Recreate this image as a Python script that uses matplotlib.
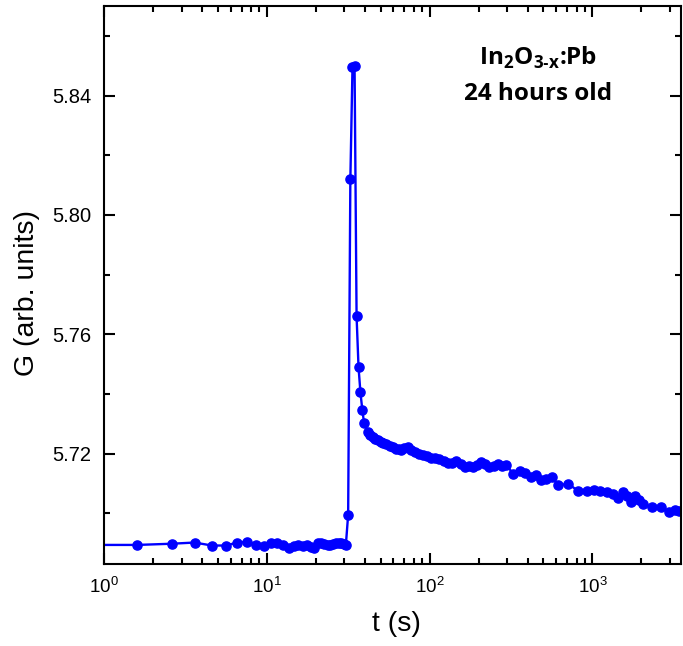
import matplotlib
matplotlib.use("Agg")
import matplotlib.pyplot as plt
from matplotlib.ticker import MultipleLocator, LogLocator, NullFormatter

# conductance transient
t_base = [0.6, 1.6, 2.6, 3.6, 4.6, 5.6, 6.6, 7.6, 8.6, 9.6, 10.6, 11.6, 12.6, 13.6,
          14.6, 15.6, 16.6, 17.6, 18.6, 19.6, 20.6, 21.6, 22.6, 23.6, 24.6, 25.6,
          26.6, 27.6, 28.6, 29.6, 30.6]
g_base = [5.6894, 5.6894, 5.6898, 5.6902, 5.6892, 5.6892, 5.6902, 5.6905, 5.6895,
          5.6892, 5.6900, 5.6902, 5.6895, 5.6884, 5.6890, 5.6895, 5.6890, 5.6895,
          5.6888, 5.6884, 5.6900, 5.6900, 5.6897, 5.6895, 5.6893, 5.6898, 5.6902,
          5.6902, 5.6900, 5.6898, 5.6895]

t_peak = [31.6, 32.6, 33.6, 34.6, 35.6, 36.6, 37.6, 38.6, 39.6]
g_peak = [5.6995, 5.8119, 5.8495, 5.8500, 5.7660, 5.7489, 5.7405, 5.7347, 5.7302]

t_decay = [41.8, 43.2, 44.9, 46.5, 48.2, 50, 51.7, 54, 56.9, 59.5, 62.5, 65, 67, 70,
           73.6, 77, 80.9, 86, 91, 96, 102, 108, 115, 122, 129, 137, 146, 155, 164,
           174, 184, 196, 208, 220, 233, 247, 262, 278, 295, 327, 360, 388, 421, 452,
           485, 520, 566, 613, 713, 813, 923, 1019, 1115, 1224, 1333, 1430, 1535,
           1633, 1727, 1828, 1924, 2036, 2324, 2638, 2938, 3229, 3400]
g_decay = [5.7271, 5.7262, 5.7255, 5.7250, 5.7244, 5.7240, 5.7235, 5.7231, 5.7227,
           5.7221, 5.7216, 5.7214, 5.7212, 5.7218, 5.7221, 5.7212, 5.7204, 5.7200,
           5.7197, 5.7192, 5.7186, 5.7185, 5.7182, 5.7175, 5.7167, 5.7170, 5.7174,
           5.7165, 5.7156, 5.7158, 5.7156, 5.7162, 5.7173, 5.7165, 5.7154, 5.7158,
           5.7165, 5.7160, 5.7163, 5.7132, 5.7143, 5.7134, 5.7120, 5.7129, 5.7112,
           5.7115, 5.7123, 5.7095, 5.7098, 5.7076, 5.7076, 5.7078, 5.7074, 5.7070,
           5.7063, 5.7052, 5.7070, 5.7059, 5.7037, 5.7059, 5.7045, 5.7031, 5.7020,
           5.7020, 5.7006, 5.7011, 5.7008]

t = t_base + t_peak + t_decay
g = g_base + g_peak + g_decay

plt.rcParams['font.family'] = ['Liberation Sans', 'DejaVu Sans']
plt.rcParams['mathtext.fontset'] = 'custom'
plt.rcParams['mathtext.rm'] = 'Liberation Sans'
plt.rcParams['mathtext.bf'] = 'Open Sans:bold'

fig = plt.figure(figsize=(6.83, 6.46), dpi=100)
ax = fig.add_axes([0.1523, 0.1269, 0.8447, 0.8638])

ax.plot(t, g, '-o', color='#0000FF', lw=1.7, ms=6.6)

ax.set_xscale('log')
ax.set_xlim(1, 3500)
ax.set_ylim(5.683, 5.870)
ax.yaxis.set_major_locator(MultipleLocator(0.04))
ax.yaxis.set_minor_locator(MultipleLocator(0.02))
ax.yaxis.set_major_formatter(plt.FormatStrFormatter('%.2f'))
ax.xaxis.set_major_locator(LogLocator(base=10))
ax.xaxis.set_minor_locator(LogLocator(base=10, subs=range(2, 10)))
ax.xaxis.set_minor_formatter(NullFormatter())

ax.tick_params(which='both', direction='in', top=True, right=True, width=1.5)
ax.tick_params(which='major', length=8)
ax.tick_params(which='minor', length=4.5)
ax.tick_params(axis='y', labelsize=14.5, pad=9)
ax.tick_params(axis='x', labelsize=13.5, pad=9)
for s in ax.spines.values():
    s.set_linewidth(1.5)

fig.text(396.7 / 683, 1 - 624 / 646, 't (s)', fontsize=20.5, ha='center', va='center')
fig.text(27.5 / 683, 1 - 293 / 646, 'G (arb. units)', fontsize=20.5, rotation=90,
         ha='center', va='center')

ax.text(0.7517, 0.8943, 'In$_{\\mathbf{2}}$O$_{\\mathbf{3\u2010x}}$:Pb', transform=ax.transAxes,
        ha='center', va='baseline', fontsize=17.5, fontweight='bold', family='Open Sans')
ax.text(0.7517, 0.8315, '24 hours old', transform=ax.transAxes,
        ha='center', va='baseline', fontsize=17.5, fontweight='bold', family='Open Sans')

fig.savefig('out.png', dpi=100)
